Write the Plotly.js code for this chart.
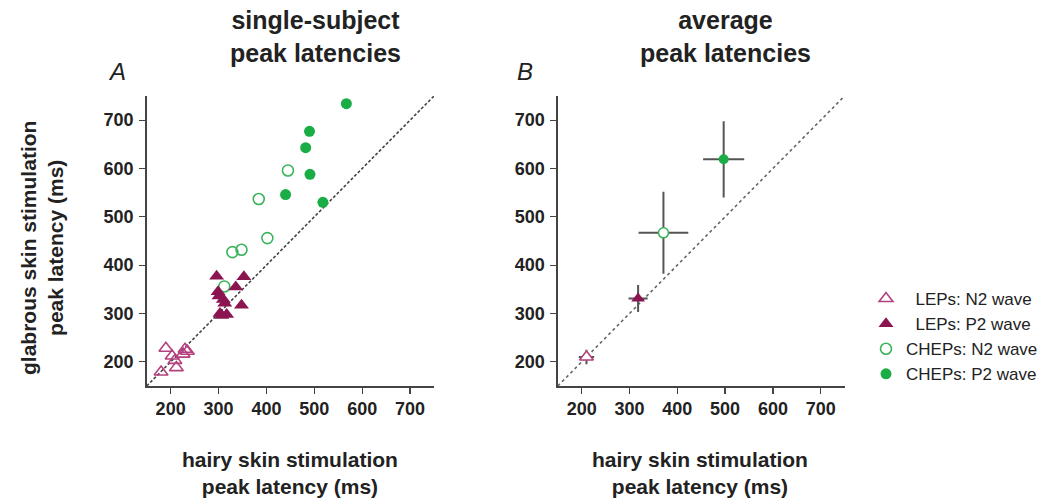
<!DOCTYPE html>
<html>
<head>
<meta charset="utf-8">
<script src="https://cdn.plot.ly/plotly-3.0.1.min.js"></script>
<style>
  html, body { margin: 0; padding: 0; background: #ffffff; }
  #chart { width: 1050px; height: 502px; }
</style>
</head>
<body>
<div id="chart"></div>
<script>
// ---- Panel A: single-subject peak latencies (ms) ----
const lepN2_hairy    = [190, 230, 235, 226, 203, 209, 212, 180];
const lepN2_glabrous = [228, 226, 222, 216, 212, 203, 188, 179];

const lepP2_hairy    = [296, 353, 336, 299, 301, 310, 313, 348, 303, 317, 307];
const lepP2_glabrous = [377, 376, 355, 345, 336, 329, 321, 317, 300, 298, 296];

const chepN2_hairy    = [445, 384, 402, 329, 348, 312];
const chepN2_glabrous = [596, 537, 456, 427, 432, 356];

const chepP2_hairy    = [567, 490, 482, 491, 440, 518];
const chepP2_glabrous = [734, 677, 643, 588, 546, 530];

// ---- Panel B: average peak latencies (ms) with SD ----
const avgLabels    = ["LEPs: N2 wave", "LEPs: P2 wave", "CHEPs: N2 wave", "CHEPs: P2 wave"];
const avg_hairy    = [210, 318, 371, 497];
const avg_glabrous = [210, 331, 467, 619];
const sd_hairy     = [16, 20, 52, 43];
const sd_glabrous  = [15, 28, 85, 79];

// identity line
const identity = [150, 750];

const tickVals   = [200, 300, 400, 500, 600, 700];
const tickLabels = ["200", "300", "400", "500", "600", "700"];

const FONT = "Arial, 'Liberation Sans', Helvetica, sans-serif";
const C_LEPN2 = "#b4417f";
const C_LEPP2 = "#8a1550";
const C_CHEPN2 = "#3bb35b";
const C_CHEPP2 = "#1aad45";

const names = ["\u00a0\u00a0LEPs: N2 wave", "\u00a0\u00a0LEPs: P2 wave", "CHEPs: N2 wave", "CHEPs: P2 wave"];

const traces = [
  // Panel A identity line
  {x: identity, y: identity, xaxis: "x", yaxis: "y", mode: "lines",
   line: {color: "#444", width: 1.6, dash: "3px,2px"}, showlegend: false, hoverinfo: "skip"},
  // Panel B identity line
  {x: identity, y: identity, xaxis: "x2", yaxis: "y2", mode: "lines",
   line: {color: "#666", width: 1.6, dash: "dot"}, showlegend: false, hoverinfo: "skip"},

  // Panel A points
  {x: chepN2_hairy, y: chepN2_glabrous, xaxis: "x", yaxis: "y", mode: "markers", type: "scatter",
   name: names[2], legendrank: 3, legendgroup: "c1",
   marker: {symbol: "circle-open", size: 11, color: C_CHEPN2, line: {width: 1.6, color: C_CHEPN2}}},
  {x: chepP2_hairy, y: chepP2_glabrous, xaxis: "x", yaxis: "y", mode: "markers", type: "scatter",
   name: names[3], legendrank: 4, legendgroup: "c2",
   marker: {symbol: "circle", size: 11, color: C_CHEPP2}},
  {x: lepN2_hairy, y: lepN2_glabrous, xaxis: "x", yaxis: "y", mode: "markers", type: "scatter",
   name: names[0], legendrank: 1, legendgroup: "l1",
   marker: {symbol: "triangle-up-open", size: 12, color: C_LEPN2, line: {width: 1.6, color: C_LEPN2}}},
  {x: lepP2_hairy, y: lepP2_glabrous, xaxis: "x", yaxis: "y", mode: "markers", type: "scatter",
   name: names[1], legendrank: 2, legendgroup: "l2",
   marker: {symbol: "triangle-up", size: 13, color: C_LEPP2}},
];

// Panel B: one trace per average point
const bStyles = [
  {symbol: "triangle-up", size: 12, color: "#ffffff", line: {width: 1.6, color: C_LEPN2}},
  {symbol: "triangle-up", size: 12, color: C_LEPP2},
  {symbol: "circle", size: 10, color: "#ffffff", line: {width: 1.6, color: C_CHEPN2}},
  {symbol: "circle", size: 10, color: C_CHEPP2},
];
const groups = ["l1", "l2", "c1", "c2"];
for (let i = 0; i < avgLabels.length; i++) {
  traces.push({
    x: [avg_hairy[i]], y: [avg_glabrous[i]], xaxis: "x2", yaxis: "y2",
    mode: "markers", type: "scatter", name: avgLabels[i], showlegend: false, legendgroup: groups[i],
    marker: bStyles[i],
    error_x: {type: "data", array: [sd_hairy[i]], color: "#555", thickness: 2, width: 0},
    error_y: {type: "data", array: [sd_glabrous[i]], color: "#555", thickness: 2, width: 0}
  });
}

const W = 1050, H = 502;
const px = v => v / W;
const py = v => 1 - v / H;

const axisCommon = {
  range: [150, 750], showgrid: false, zeroline: false,
  showline: true, linecolor: "#444", linewidth: 1.5,
  ticks: "outside", ticklen: 6, tickwidth: 1.2, tickcolor: "#444",
  tickvals: tickVals, ticktext: tickLabels,
  tickfont: {family: FONT, size: 18, color: "#222", weight: "bold"},
  fixedrange: true
};

const layout = {
  width: W, height: H,
  margin: {l: 0, r: 0, t: 0, b: 0},
  paper_bgcolor: "#ffffff", plot_bgcolor: "#ffffff",
  showlegend: true,
  font: {family: FONT, color: "#222"},
  xaxis:  Object.assign({}, axisCommon, {domain: [px(146.7), px(434)], anchor: "y"}),
  yaxis:  Object.assign({}, axisCommon, {domain: [py(386), py(96)], anchor: "x", ticklabelstandoff: 2}),
  xaxis2: Object.assign({}, axisCommon, {domain: [px(557.8), px(844.6)], anchor: "y2"}),
  yaxis2: Object.assign({}, axisCommon, {domain: [py(386), py(96)], anchor: "x2", ticklabelstandoff: 2}),
  legend: {
    x: px(866), y: py(281), xanchor: "left", yanchor: "top",
    font: {family: FONT, size: 17, color: "#222"},
    bgcolor: "rgba(0,0,0,0)", borderwidth: 0,
    itemwidth: 30, traceorder: "normal", tracegroupgap: 0
  },
  annotations: [
    {text: "single-subject<br>peak latencies", x: px(315), y: py(36), xref: "paper", yref: "paper",
     showarrow: false, xanchor: "center", yanchor: "middle",
     font: {family: FONT, size: 25, color: "#222", weight: "bold"}},
    {text: "average<br>peak latencies", x: px(725), y: py(36), xref: "paper", yref: "paper",
     showarrow: false, xanchor: "center", yanchor: "middle",
     font: {family: FONT, size: 25, color: "#222", weight: "bold"}},
    {text: "A", x: px(117), y: py(72), xref: "paper", yref: "paper", showarrow: false,
     xanchor: "center", yanchor: "middle",
     font: {family: FONT, size: 24, color: "#222", style: "italic"}},
    {text: "B", x: px(525), y: py(72), xref: "paper", yref: "paper", showarrow: false,
     xanchor: "center", yanchor: "middle",
     font: {family: FONT, size: 24, color: "#222", style: "italic"}},
    {text: "hairy skin stimulation<br>peak latency (ms)", x: px(290), y: py(472.5), xref: "paper", yref: "paper",
     showarrow: false, xanchor: "center", yanchor: "middle",
     font: {family: FONT, size: 21, color: "#222", weight: "bold"}},
    {text: "hairy skin stimulation<br>peak latency (ms)", x: px(700), y: py(472.5), xref: "paper", yref: "paper",
     showarrow: false, xanchor: "center", yanchor: "middle",
     font: {family: FONT, size: 21, color: "#222", weight: "bold"}},
    {text: "glabrous skin stimulation<br>peak latency (ms)", x: px(42), y: py(248), xref: "paper", yref: "paper",
     showarrow: false, xanchor: "center", yanchor: "middle", textangle: -90,
     font: {family: FONT, size: 21, color: "#222", weight: "bold"}}
  ]
};

Plotly.newPlot("chart", traces, layout, {staticPlot: true, displayModeBar: false});
</script>
</body>
</html>
